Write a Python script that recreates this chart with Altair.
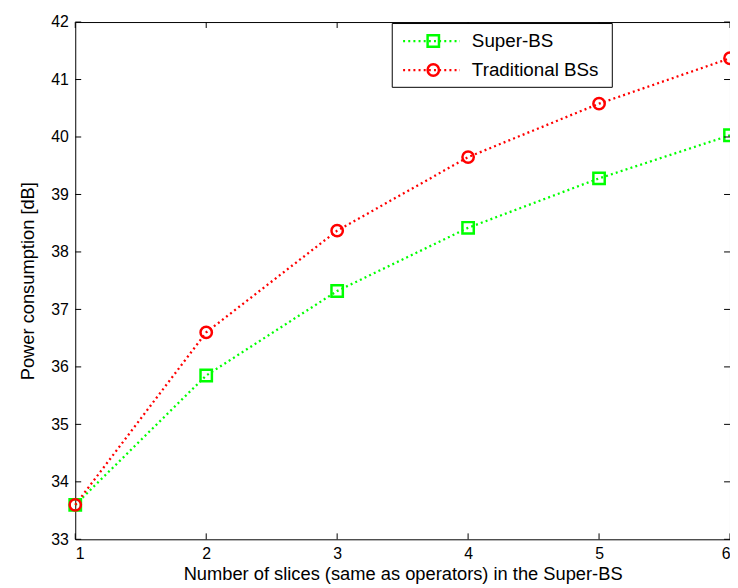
import altair as alt
import pandas as pd

x_vals = [1, 2, 3, 4, 5, 6]
series_names = ["Super-BS", "Traditional BSs"]
super_bs = [33.60, 35.85, 37.32, 38.42, 39.28, 40.03]
traditional = [33.60, 36.60, 38.37, 39.65, 40.58, 41.37]
colors = ["#00ff00", "#ff0000"]
shapes = ["square", "circle"]
y_ticks = [33, 34, 35, 36, 37, 38, 39, 40, 41, 42]
x_ticks = [1, 2, 3, 4, 5, 6]
x_title = "Number of slices (same as operators) in the Super-BS"
y_title = "Power consumption [dB]"

W, H = 662, 523
FONT = "Liberation Sans"

rows = []
for name, vals in zip(series_names, [super_bs, traditional]):
    for xv, yv in zip(x_vals, vals):
        rows.append({"x": xv, "y": yv, "series": name})
df = pd.DataFrame(rows)

xscale = alt.Scale(domain=[1, 6], nice=False, zero=False)
yscale = alt.Scale(domain=[33, 42], nice=False, zero=False)
cscale = alt.Scale(domain=series_names, range=colors)
sscale = alt.Scale(domain=series_names, range=shapes)

xaxis = alt.Axis(values=x_ticks, format="d", labelPadding=6,
                 titleY=40.5, titleBaseline="alphabetic")
yaxis = alt.Axis(values=y_ticks, format="d", labelPadding=7, titlePadding=13)


def X(field):
    return alt.X(field, type="quantitative", scale=xscale, axis=xaxis, title=x_title)


def Y(field):
    return alt.Y(field, type="quantitative", scale=yscale, axis=yaxis, title=y_title)


DASH = [2, 3.2]
LW = 2.3

base = alt.Chart(df)
lines = base.mark_line(strokeDash=DASH, strokeWidth=LW).encode(
    x=X("x"), y=Y("y"),
    color=alt.Color("series:N", scale=cscale, legend=None),
    detail="series:N",
)
points = base.mark_point(filled=False, strokeWidth=2.5, size=132, opacity=1).encode(
    x=X("x"), y=Y("y"),
    color=alt.Color("series:N", scale=cscale, legend=None),
    shape=alt.Shape("series:N", scale=sscale, legend=None),
)

# inward ticks on all four sides
ydf = pd.DataFrame({"t": y_ticks})
xdf = pd.DataFrame({"t": x_ticks})
tick_style = dict(color="black", strokeWidth=1)
yt_left = alt.Chart(ydf).mark_rule(**tick_style).encode(
    y=Y("t"), x=alt.value(0), x2=alt.value(6))
yt_right = alt.Chart(ydf).mark_rule(**tick_style).encode(
    y=Y("t"), x=alt.value(W - 6), x2=alt.value(W))
xt_bottom = alt.Chart(xdf).mark_rule(**tick_style).encode(
    x=X("t"), y=alt.value(H), y2=alt.value(H - 6))
xt_top = alt.Chart(xdf).mark_rule(**tick_style).encode(
    x=X("t"), y=alt.value(0), y2=alt.value(6))

# legend box
one = pd.DataFrame({"a": [0]})
legend_layers = [
    alt.Chart(one).mark_rect(fill="white", stroke="black", strokeWidth=1).encode(
        x=alt.value(320.5), x2=alt.value(543), y=alt.value(1.5), y2=alt.value(66))
]
row_y = [19.2, 48.5]
for name, col, shp, ry in zip(series_names, colors, shapes, row_y):
    ldf = pd.DataFrame({"label": [name]})
    legend_layers.append(alt.Chart(ldf).mark_rule(color=col, strokeDash=DASH, strokeWidth=LW).encode(
        x=alt.value(331.5), x2=alt.value(389), y=alt.value(ry)))
    legend_layers.append(alt.Chart(ldf).mark_point(color=col, shape=shp, filled=False,
                                                   strokeWidth=2.5, size=132, opacity=1).encode(
        x=alt.value(362), y=alt.value(ry)))
    legend_layers.append(alt.Chart(ldf).mark_text(align="left", baseline="middle", fontSize=19,
                                                  font=FONT, color="black").encode(
        x=alt.value(401), y=alt.value(ry), text="label:N"))

chart = alt.layer(lines, points, yt_left, yt_right, xt_bottom, xt_top, *legend_layers).properties(
    width=W, height=H,
    padding={"left": 68, "top": 11, "right": 0, "bottom": 44},
    autosize=alt.AutoSizeParams(type="none"),
    background="white",
).configure_view(stroke="black", strokeWidth=1).configure_axis(
    ticks=False, tickSize=0, domain=False, grid=False,
    labelFontSize=16, labelFont=FONT, labelColor="black",
    titleFontSize=18.5, titleFont=FONT, titleFontWeight="normal", titleColor="black",
)

chart.save("out.html", embed_options={"renderer": "svg", "actions": False})
